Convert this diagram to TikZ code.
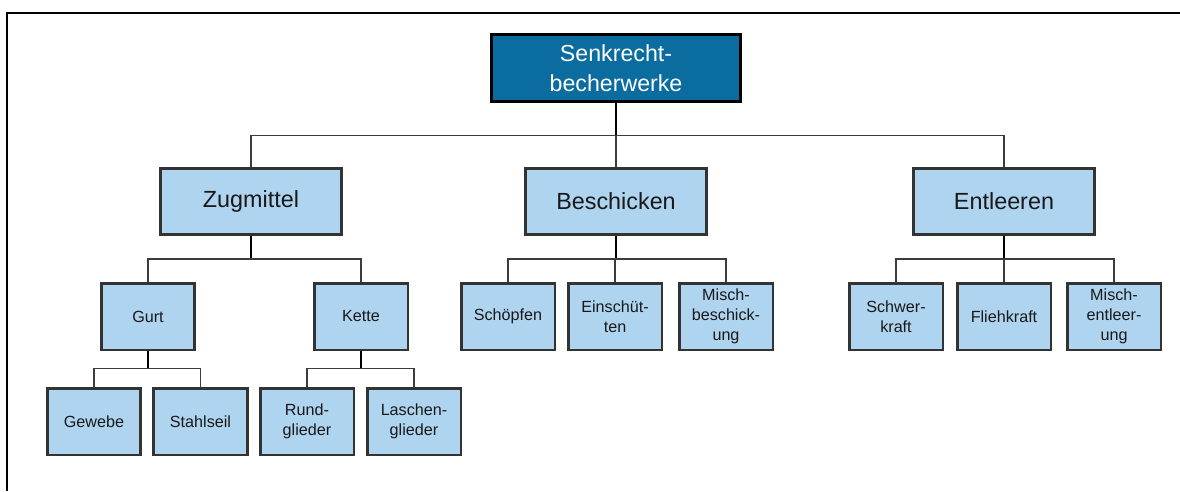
\documentclass[tikz,border=0pt]{standalone}
\usepackage{fontspec}
\setmainfont{Liberation Sans}
\usepackage{tikz}
\usetikzlibrary{positioning, calc}
\definecolor{rootblue}{RGB}{11, 108, 159}
\definecolor{boxblue}{RGB}{174, 212, 240}
\definecolor{boxedge}{RGB}{51, 51, 51}
\definecolor{linegray}{RGB}{60, 60, 60}

\tikzset{
  rootbox/.style={draw=black, line width=1.7pt, fill=rootblue, text=white, align=center,
    minimum width=5.0cm, minimum height=1.35cm, inner sep=2pt,
    font=\fontsize{13.2}{17.2}\selectfont},
  groupbox/.style={draw=boxedge, line width=1.7pt, fill=boxblue, text=black!90, align=center,
    minimum width=3.62cm, minimum height=1.32cm, inner sep=2pt,
    font=\fontsize{13.3}{17}\selectfont},
  leafbox/.style={draw=boxedge, line width=1.7pt, fill=boxblue, text=black!90, align=center,
    minimum width=1.88cm, minimum height=1.34cm, inner sep=2pt,
    font=\fontsize{9.2}{11.4}\selectfont},
  trunk/.style={draw=black, line width=1.1pt},
  branch/.style={draw=linegray, line width=0.75pt}
}

\begin{document}
\begin{tikzpicture}[x=0.02cm, y=-0.02cm]
  \useasboundingbox (0,0) rectangle (1180,491);
  \draw[line width=1.5pt] (1180,13) -- (7,13) -- (7,491);

  % Root
  \node[rootbox] (root) at (616,68) {Senkrecht-\\becherwerke};

  % Groups
  \node[groupbox] (zug) at (251,201.5) {Zugmittel};
  \node[groupbox] (besch) at (616,201.5) {Beschicken};
  \node[groupbox] (ent) at (1004,201.5) {Entleeren};

  % Second row
  \node[leafbox] (gurt) at (148,316.5) {Gurt};
  \node[leafbox] (kette) at (361,316.5) {Kette};
  \node[leafbox] (schoepfen) at (508,316.5) {Schöpfen};
  \node[leafbox] (einschuett) at (615,316.5) {Einschüt-\\ten};
  \node[leafbox] (mischbe) at (726,316.5) {Misch-\\beschick-\\ung};
  \node[leafbox] (schwer) at (896,316.5) {Schwer-\\kraft};
  \node[leafbox] (flieh) at (1004,316.5) {Fliehkraft};
  \node[leafbox] (mischent) at (1114,316.5) {Misch-\\entleer-\\ung};

  % Third row
  \node[leafbox] (gewebe) at (94,421.5) {Gewebe};
  \node[leafbox] (stahl) at (200.5,421.5) {Stahlseil};
  \node[leafbox] (rund) at (307,421.5) {Rund-\\glieder};
  \node[leafbox] (lasche) at (414,421.5) {Laschen-\\glieder};

  % Connectors
  \draw[trunk] (root.south) -- ++(0,32) coordinate (j0);
  \draw[branch] (j0) -| (zug.north);
  \draw[branch] (j0) -| (ent.north);
  \draw[branch] (j0) -- (besch.north);

  \draw[trunk] (zug.south) -- ++(0,23) coordinate (j1);
  \draw[branch] (j1) -| (gurt.north);
  \draw[branch] (j1) -| (kette.north);

  \draw[trunk] (besch.south) -- ++(0,23) coordinate (j2);
  \draw[branch] (j2) -| (schoepfen.north);
  \draw[branch] (j2) -| (mischbe.north);
  \draw[branch] (j2) -| (einschuett.north);

  \draw[trunk] (ent.south) -- ++(0,23) coordinate (j3);
  \draw[branch] (j3) -| (schwer.north);
  \draw[branch] (j3) -| (mischent.north);
  \draw[branch] (j3) -- (flieh.north);

  \draw[trunk] (gurt.south) -- ++(0,17) coordinate (j4);
  \draw[branch] (j4) -| (gewebe.north);
  \draw[branch] (j4) -| (stahl.north);

  \draw[trunk] (kette.south) -- ++(0,17) coordinate (j5);
  \draw[branch] (j5) -| (rund.north);
  \draw[branch] (j5) -| (lasche.north);
\end{tikzpicture}
\end{document}
